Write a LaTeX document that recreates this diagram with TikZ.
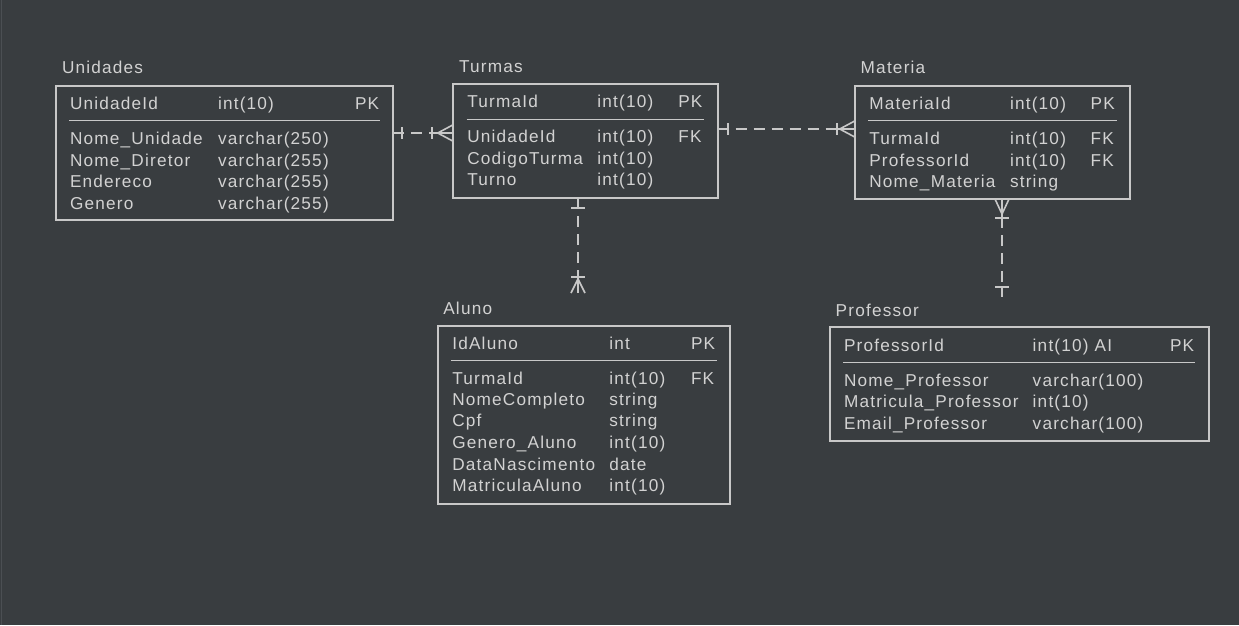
\documentclass[tikz,border=0pt]{standalone}
\usepackage{fontspec}
\setmainfont{Liberation Sans}[LetterSpace=7]
\usetikzlibrary{calc}
\definecolor{bg}{HTML}{393D40}
\definecolor{fg}{HTML}{D2D2D2}
\definecolor{ln}{HTML}{C8C8C8}
\definecolor{edge}{HTML}{4B4F53}
% one field row: prefix, baseline y, x name, x type, x key, name, type, key
\newcommand\fld[8]{%
  \node[txt] (#1-name) at (#3,#2) {#6};
  \node[txt] (#1-type) at (#4,#2) {#7};
  \node[txt] (#1-key) at (#5,#2) {#8};}
\begin{document}
\begin{tikzpicture}[x=1pt,y=-1pt,
  txt/.style={anchor=base west,inner sep=0pt,outer sep=0pt,text=fg,font=\fontsize{17.2}{20}\selectfont},
  tbl/.style={draw=ln,line width=2pt,anchor=north west,inner sep=0pt,outer sep=0pt},
  sepline/.style={draw=ln,line width=1.3pt},
  rel/.style={draw=ln,line width=1.6pt,dash pattern=on 11pt off 7pt},
  mk/.style={draw=ln,line width=1.6pt}]
\fill[bg] (0,0) rectangle (1239,625);
\useasboundingbox (0,0) rectangle (1239,625);
\draw[edge,line width=1pt] (1.5,0) -- (1.5,625);

% ---------- Unidades
\node[txt] (unidTitle) at (62,73.3) {Unidades};
\node[tbl,minimum width=337pt,minimum height=134.5pt] (tUnid) at (56,85.7) {};
\draw[sepline] (69,120.7) -- (380,120.7);
\fld{ua}{109}{70}{218}{355}{UnidadeId}{int(10)}{PK}
\fld{ub}{144.5}{70}{218}{355}{Nome\_Unidade}{varchar(250)}{}
\fld{uc}{166}{70}{218}{355}{Nome\_Diretor}{varchar(255)}{}
\fld{ud}{187.5}{70}{218}{355}{Endereco}{varchar(255)}{}
\fld{ue}{209}{70}{218}{355}{Genero}{varchar(255)}{}

% ---------- Turmas
\node[txt] (turmTitle) at (459,72.7) {Turmas};
\node[tbl,minimum width=265pt,minimum height=114pt] (tTurm) at (452.7,84.3) {};
\draw[sepline] (466.7,119.3) -- (704,119.3);
\fld{ta}{107.7}{467.3}{597.3}{678.3}{TurmaId}{int(10)}{PK}
\fld{tb}{142.7}{467.3}{597.3}{678.3}{UnidadeId}{int(10)}{FK}
\fld{tc}{164}{467.3}{597.3}{678.3}{CodigoTurma}{int(10)}{}
\fld{td}{185.3}{467.3}{597.3}{678.3}{Turno}{int(10)}{}

% ---------- Materia
\node[txt] (matTitle) at (860.7,73.3) {Materia};
\node[tbl,minimum width=275.3pt,minimum height=113.3pt] (tMat) at (854.7,85.7) {};
\draw[sepline] (868.3,120.7) -- (1116.7,120.7);
\fld{ma}{109}{869.3}{1010}{1090.7}{MateriaId}{int(10)}{PK}
\fld{mb}{144.3}{869.3}{1010}{1090.7}{TurmaId}{int(10)}{FK}
\fld{mc}{166}{869.3}{1010}{1090.7}{ProfessorId}{int(10)}{FK}
\fld{md}{187.3}{869.3}{1010}{1090.7}{Nome\_Materia}{string}{}

% ---------- Aluno
\node[txt] (aluTitle) at (443.3,314.3) {Aluno};
\node[tbl,minimum width=291.7pt,minimum height=178.3pt] (tAlu) at (438.3,326) {};
\draw[sepline] (451,360.3) -- (716.7,360.3);
\fld{aa}{349}{452.3}{609.3}{691}{IdAluno}{int}{PK}
\fld{ab}{384.3}{452.3}{609.3}{691}{TurmaId}{int(10)}{FK}
\fld{ac}{405.7}{452.3}{609.3}{691}{NomeCompleto}{string}{}
\fld{ad}{426.7}{452.3}{609.3}{691}{Cpf}{string}{}
\fld{ae}{448.3}{452.3}{609.3}{691}{Genero\_Aluno}{int(10)}{}
\fld{af}{470}{452.3}{609.3}{691}{DataNascimento}{date}{}
\fld{ag}{491.7}{452.3}{609.3}{691}{MatriculaAluno}{int(10)}{}

% ---------- Professor
\node[txt] (profTitle) at (835.7,316.7) {Professor};
\node[tbl,minimum width=379pt,minimum height=113.4pt] (tProf) at (830,327.3) {};
\draw[sepline] (843.3,362.7) -- (1195,362.7);
\fld{pa}{351}{844}{1032.7}{1170}{ProfessorId}{int(10) AI}{PK}
\fld{pb}{386}{844}{1032.7}{1170}{Nome\_Professor}{varchar(100)}{}
\fld{pc}{407.7}{844}{1032.7}{1170}{Matricula\_Professor}{int(10)}{}
\fld{pd}{429}{844}{1032.7}{1170}{Email\_Professor}{varchar(100)}{}

% ---------- Relations
% Unidades -- Turmas
\coordinate (r1a) at (tUnid.east |- 0,133);
\coordinate (r1b) at (tTurm.west |- 0,133);
\draw[rel] (r1a) -- (r1b);
\draw[mk] ([xshift=9pt]r1a) ++(0,-6) -- ++(0,12);
\draw[mk] ([xshift=-21pt]r1b) ++(0,-6) -- ++(0,12);
\draw[mk] ([yshift=8pt]r1b) -- ([xshift=-15pt]r1b) -- ([yshift=-8pt]r1b);
\draw[mk] ([xshift=-21pt]r1b) -- (r1b);

% Turmas -- Materia
\coordinate (r2a) at (tTurm.east |- 0,129);
\coordinate (r2b) at (tMat.west |- 0,129);
\draw[rel] (r2a) -- (r2b);
\draw[mk] (r2a) -- ([xshift=10pt]r2a);
\draw[mk] ([xshift=10pt]r2a) ++(0,-6) -- ++(0,12);
\draw[mk] ([xshift=-18pt]r2b) ++(0,-6) -- ++(0,12);
\draw[mk] ([yshift=8pt]r2b) -- ([xshift=-15pt]r2b) -- ([yshift=-8pt]r2b);
\draw[mk] ([xshift=-18pt]r2b) -- (r2b);

% Turmas -- Aluno
\coordinate (r3a) at (tTurm.south -| 578,0);
\coordinate (r3b) at (578,293);
\draw[rel] (r3a) -- (r3b);
\draw[mk] (r3a) -- (578,208);
\draw[mk] (571,208) -- (585,208);
\draw[mk] (571,277) -- (585,277);
\draw[mk] (571,293) -- (578,279) -- (585,293);
\draw[mk] (578,277) -- (r3b);

% Materia -- Professor
\coordinate (r4a) at (tMat.south -| 1002,0);
\coordinate (r4b) at (1002,297);
\draw[rel] (r4a) -- (r4b);
\draw[mk] (r4a) -- (1002,218);
\draw[mk] (995,199) -- (1002,214) -- (1009,199);
\draw[mk] (995,218) -- (1009,218);
\draw[mk] (995,287) -- (1009,287);
\draw[mk] (1002,287) -- (r4b);
\end{tikzpicture}
\end{document}
